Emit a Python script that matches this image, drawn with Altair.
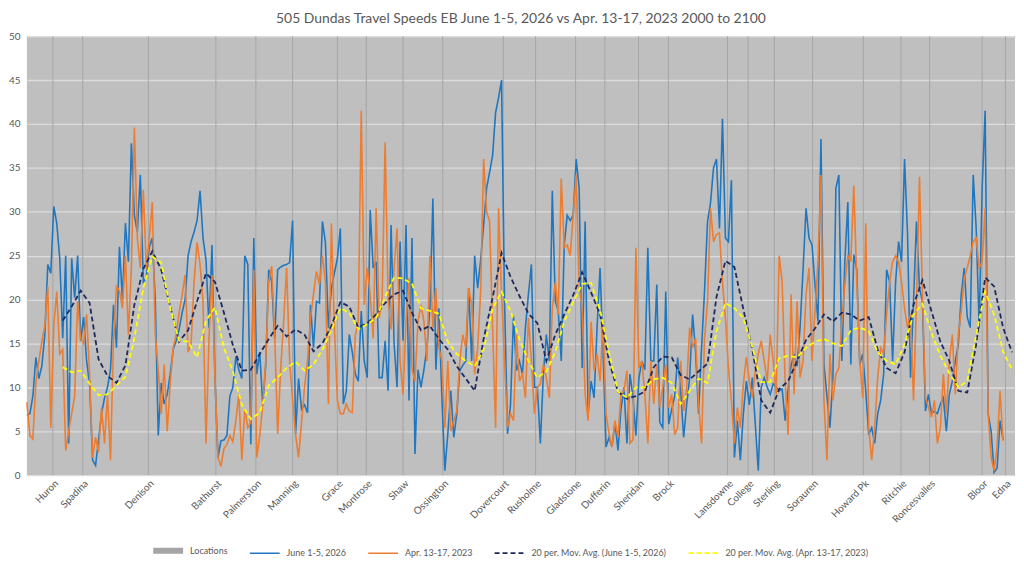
import json

import altair as alt
import pandas as pd

title = "505 Dundas Travel Speeds EB June 1-5, 2026 vs Apr. 13-17, 2023 2000 to 2100"

# stops along the route, positioned on the segment index axis
loc_names = ["Huron", "Spadina", "Denison", "Bathurst", "Palmerston", "Manning",
             "Grace", "Montrose", "Shaw", "Ossington", "Dovercourt", "Rusholme",
             "Gladstone", "Dufferin", "Sheridan", "Brock", "Lansdowne", "College",
             "Sterling", "Sorauren", "Howard Pk", "Ritchie", "Roncesvalles",
             "Bloor", "Edna"]
loc_pos = [8.7, 18.7, 40.7, 63.3, 76.7, 89, 104, 113.7, 126, 139.3, 159.6, 170.4,
           183.8, 193.6, 204.9, 214.9, 234.7, 241.6, 250.4, 263.2, 280.2, 292.8,
           302.4, 320, 327.8]

# speeds per segment, June 1-5, 2026
june = [
    6.8, 7, 9, 13.4, 11, 12.4, 16, 24, 23, 30.6,
    28.7, 24.7, 15.6, 25, 3.6, 24.7, 20.2, 25, 15.3, 18,
    13, 10.4, 1.7, 1.1, 4, 7, 8.8, 10, 12, 19.4,
    14.5, 26, 20, 28.7, 24.3, 37.8, 29.6, 27.7, 34.2, 22,
    22.5, 26, 27, 20, 4.5, 10.5, 8.1, 9.2, 11.5, 14.3,
    15.3, 16.6, 18.5, 20, 25, 26.6, 27.7, 29, 32.4, 27,
    24.5, 16.8, 26.2, 11, 2, 3.9, 4, 4.5, 9, 10,
    13.5, 12, 11, 25, 24, 3.5, 27, 11.5, 14, 8,
    12.5, 23.4, 22, 15.5, 23.4, 23.7, 23.9, 24, 24.2, 29,
    4.7, 11, 7.5, 8, 7.1, 19.4, 14.5, 19.8, 19.6, 28.9,
    26.5, 16.8, 21.3, 23, 24.7, 28.1, 8.1, 9.6, 16, 14,
    11.5, 10.7, 18.7, 13, 11.1, 30.2, 23.6, 24.3, 11.1, 11.1,
    15.3, 9.6, 28.5, 15, 10, 26.6, 15.3, 28.5, 8.5, 27,
    2.4, 12, 10, 12, 14.5, 19, 31.5, 12, 19, 9,
    0.5, 4.7, 9.6, 4.3, 7, 11.9, 12.5, 13, 21.3, 13,
    25, 21.3, 24.5, 28.5, 32.7, 34.5, 36.4, 41.3, 43, 45,
    20, 4.7, 8, 18.1, 11.9, 13, 11.5, 16.8, 20.6, 24,
    10, 10, 3.6, 11.5, 16, 13, 32.4, 19.8, 18.7, 13,
    26.2, 29.6, 29, 29.6, 36, 32.7, 12.2, 28.9, 7, 10.7,
    8.8, 16.8, 23.6, 14.1, 3.2, 4.3, 3.2, 6, 2.8, 7.5,
    10, 3.6, 11.5, 9, 4.5, 11, 13, 12, 25.9, 13,
    13, 21.7, 6, 5.4, 20.9, 5.8, 7.5, 9, 13.4, 9.6,
    4.3, 8, 11, 18.3, 14, 7, 14.5, 21, 28.9, 31,
    35, 36, 28.1, 40.6, 27, 26.6, 33.6, 2, 6.2, 1.7,
    7, 10.7, 8, 11.1, 5.8, 0.5, 10, 11.1, 10, 9.2,
    10.4, 10, 9.6, 9.8, 6.2, 9.8, 12.5, 13.8, 12.4, 16.8,
    23.4, 30.4, 27, 26.2, 21.7, 17.5, 38.3, 12.6, 9, 5.4,
    11.1, 32.7, 34.2, 13, 24.3, 31.1, 12.6, 25.1, 23.4, 12.6,
    13.8, 9.6, 4.6, 5.4, 3.6, 7, 8.5, 11.5, 23.4, 22,
    13, 22, 26.6, 24.3, 36, 27.4, 11.1, 19.8, 28.9, 21.3,
    19.8, 7.3, 9.2, 7, 7.3, 7, 8.1, 8.8, 5, 9.2,
    10.7, 13, 14.8, 20.6, 23.6, 18, 16.8, 34.2, 28.1, 16.8,
    32.7, 41.5, 7, 5, 0.3, 0.8, 6.2, 4,
]

# speeds per segment, Apr. 13-17, 2023
april = [
    8.3, 4.5, 4.1, 10.5, 13, 15.2, 17, 21.5, 5.4, 17,
    20.9, 13.8, 14.3, 2.8, 5, 7, 9, 19.8, 15.5, 15,
    18.3, 11.5, 2, 4.3, 2.6, 7.7, 3.6, 9.2, 1.7, 15.3,
    21.5, 21, 19, 25, 16, 23.6, 39.6, 27, 23.6, 32.5,
    23.5, 27, 31.1, 16, 12, 7, 12.6, 5, 10.4, 14.5,
    16, 18.5, 20.5, 22.8, 14, 15, 22, 26.5, 24, 19.8,
    3.6, 15.5, 22.8, 11, 2, 1, 3, 3.5, 4.5, 3.8,
    6.2, 9.2, 1.7, 7.5, 5.4, 6, 23.4, 2, 4.5, 8,
    13, 22, 23.8, 16, 4.7, 12, 17.5, 23.6, 13, 8.5,
    4.6, 2, 6, 10, 13, 17.9, 20.6, 23.2, 21.7, 25,
    22, 8.1, 28.7, 17, 8.5, 7, 7, 8.1, 7.3, 7.1,
    15.9, 17.5, 41.5, 19.4, 23.6, 20.6, 15.6, 30.4, 17.9, 20,
    37.9, 20, 16.6, 23.6, 28.1, 13, 9.2, 17.5, 22.4, 12,
    10.7, 17.5, 19.4, 17.5, 13, 25, 16.8, 21.3, 14.5, 13,
    5.4, 13, 5, 6.2, 7.3, 13, 16, 14.5, 21.3, 19.4,
    11.5, 14.5, 20.9, 36, 30, 28.9, 16.8, 5.4, 30.4, 20.6,
    13, 5.4, 7, 6.2, 16, 10.7, 11.5, 8.8, 17.9, 13,
    7, 10, 10.4, 12.6, 11.1, 8.8, 19, 22, 18.3, 33.8,
    25.9, 26.2, 25, 29.6, 34.2, 21.3, 19, 9.2, 6.2, 17.5,
    11.9, 13.8, 10.7, 17.5, 7, 4.7, 3.2, 6.2, 4.3, 9.2,
    9.6, 11.9, 3.6, 4, 25.9, 12.2, 13, 9.2, 3.6, 13,
    8.1, 12.6, 7.7, 10, 12.6, 7.7, 9.2, 4.6, 5.4, 13,
    7.3, 10, 16.8, 14.5, 15.6, 8.1, 3.6, 15.6, 19.8, 30.4,
    26.6, 27.4, 27.6, 22, 17.9, 12.2, 8.5, 3.6, 7.7, 5.4,
    10.4, 13.4, 10.7, 8.8, 11.9, 13.8, 15.3, 13, 10.7, 16,
    13, 9.2, 25, 22, 10.7, 4.6, 20.6, 9.2, 19.8, 11.1,
    13, 20.6, 23.6, 13, 18.7, 24.3, 34.2, 8.5, 1.7, 13.8,
    8.5, 11.5, 12.2, 17.5, 21.7, 25, 24.3, 33, 22, 13,
    8.8, 28.7, 5.4, 1.7, 5.4, 11.1, 14.5, 13.8, 18.3, 22,
    24.3, 25, 24.3, 22, 19, 16.8, 18.3, 8.5, 19.8, 34,
    20.6, 8.8, 7.7, 6.6, 8.5, 3.6, 5.4, 11.5, 7, 13,
    16, 9.2, 16, 18.7, 22.5, 23.6, 25, 26.6, 27, 23.6,
    24.3, 30.4, 7, 2, 0.5, 3.2, 9.6, 3.9,
]

# 20 period moving averages, read every third segment from segment 12 on
ma_june = [
    17.6, 19.2, 21, 19.6, 13.2, 11.3, 10.5, 12.5, 19.4, 23.5,
    25.5, 23.4, 19.2, 15.2, 16.5, 19.8, 23, 22, 18.5, 14.8,
    11.9, 12, 13.8, 15.5, 17, 15.8, 16.6, 16, 14.1, 15,
    17, 19.7, 19.2, 16.8, 17.3, 18.3, 19.6, 20.6, 21, 18.5,
    16.5, 17, 15.5, 14.3, 12.4, 11, 9.6, 15.5, 20.2, 25.3,
    22.6, 20.4, 18.4, 17.3, 13, 16, 18.3, 20.5, 23.1, 20.8,
    18.3, 13, 9.5, 8.7, 9, 9.5, 12.3, 13.5, 13.4, 11.4,
    10.9, 11.8, 12.7, 20.3, 24.4, 23.7, 18.9, 14.3, 8.5, 7.1,
    9.8, 10.7, 13, 15.4, 16.7, 18.3, 17.5, 18.5, 18.3, 17.6,
    18, 14.3, 12.2, 11.6, 14, 19.4, 22.2, 18.7, 15.2, 13,
    9.6, 9.4, 14.9, 22.5, 21.5, 16.8, 14,
]
ma_april = [
    12.3, 11.7, 11.9, 10.4, 9.1, 9.2, 10.2, 11.2, 15.6, 21.3,
    24.9, 24.2, 19, 15.3, 15.2, 13.4, 17.6, 19.1, 14.5, 11.8,
    8, 6.4, 7.1, 10.2, 11.1, 12.2, 12.9, 11.9, 12.6, 14.3,
    16.5, 19, 18.5, 16.6, 17.2, 17.9, 20.3, 22.5, 22.4, 21.8,
    19, 18.7, 18.4, 15.2, 13.8, 13, 12.4, 14.3, 19, 20.9,
    18.7, 15.5, 13, 11.1, 11.8, 14, 17.5, 19.7, 21.8, 21.9,
    18.8, 14, 9.5, 8.8, 10, 10, 10.9, 11.1, 10.5, 8.1,
    9.6, 11, 10.5, 16.4, 19.6, 19, 17.9, 14.6, 10.6, 10.6,
    13.3, 13.6, 13.4, 14.5, 15.2, 15.5, 15, 14.7, 16.5, 16.8,
    16.4, 14, 13, 12.6, 14.9, 18.3, 19.5, 16.2, 13.6, 11.6,
    10, 10.7, 16, 20.9, 18.3, 14.1, 12,
]

series_names = ["Locations", "June 1-5, 2026", "Apr. 13-17, 2023",
                "20 per. Mov. Avg. (June 1-5, 2026)",
                "20 per. Mov. Avg. (Apr. 13-17, 2023)"]
series_colors = ["#a5a5a5", "#2077c0", "#ed7d31", "#1f2a5c", "#ffff00"]
series_dash = [[1, 0], [1, 0], [1, 0], [5, 3], [5, 3]]
series_width = [6, 1.6, 1.6, 1.8, 1.8]


def frame(values, name, start=0, step=1):
    return pd.DataFrame({
        "idx": [start + step * i for i in range(len(values))],
        "speed": values,
        "series": name,
    })


legend = alt.Legend(orient="none", legendX=124, legendY=499, direction="horizontal",
                    title=None, symbolType="stroke", symbolSize=900, columns=5,
                    labelFontSize=9, labelColor="#595959", labelLimit=400,
                    labelOffset=4, columnPadding=18)

color = alt.Color("series:N", scale=alt.Scale(domain=series_names, range=series_colors),
                  legend=legend)
dash = alt.StrokeDash("series:N", scale=alt.Scale(domain=series_names, range=series_dash),
                      legend=legend)
width = alt.StrokeWidth("series:N",
                        scale=alt.Scale(type="ordinal", domain=series_names,
                                        range=series_width),
                        legend=legend)

label_expr = "{}[indexof({}, datum.value)]".format(json.dumps(loc_names), json.dumps(loc_pos))

x = alt.X("idx:Q", scale=alt.Scale(domain=[0, 331], nice=False, zero=False),
          axis=alt.Axis(values=loc_pos, labelExpr=label_expr, title=None, grid=False,
                        domain=False, ticks=False, labelAngle=-45, labelFontSize=10,
                        labelColor="#595959", labelPadding=3, labelOverlap=False))
y = alt.Y("speed:Q", scale=alt.Scale(domain=[0, 50], nice=False),
          axis=alt.Axis(values=list(range(0, 55, 5)), title=None, domain=False,
                        ticks=False, gridColor="#dcdcdc", gridWidth=1.3,
                        labelColor="#595959", labelFontSize=10, labelPadding=7))

locations = alt.Chart(pd.DataFrame({"idx": loc_pos, "series": "Locations"})).mark_rule(
    strokeWidth=1, color="#a5a5a5").encode(x=x, color=color)


def line(df):
    return alt.Chart(df).mark_line().encode(x=x, y=y, color=color, strokeDash=dash,
                                            strokeWidth=width)


chart = alt.layer(
    locations,
    line(frame(june, series_names[1])),
    line(frame(april, series_names[2])),
    line(frame(ma_june, series_names[3], start=12, step=3)),
    line(frame(ma_april, series_names[4], start=12, step=3)),
).properties(
    width=993,
    height=441,
    padding={"left": 0, "top": 3, "right": 0, "bottom": 0},
    title=alt.TitleParams(title, fontSize=14, fontWeight="normal", color="#595959",
                          anchor="middle", offset=5),
).configure(font="Lato").configure_view(fill="#bfbfbf", stroke=None)

chart.save("out.html", embed_options={"renderer": "svg", "actions": False})
